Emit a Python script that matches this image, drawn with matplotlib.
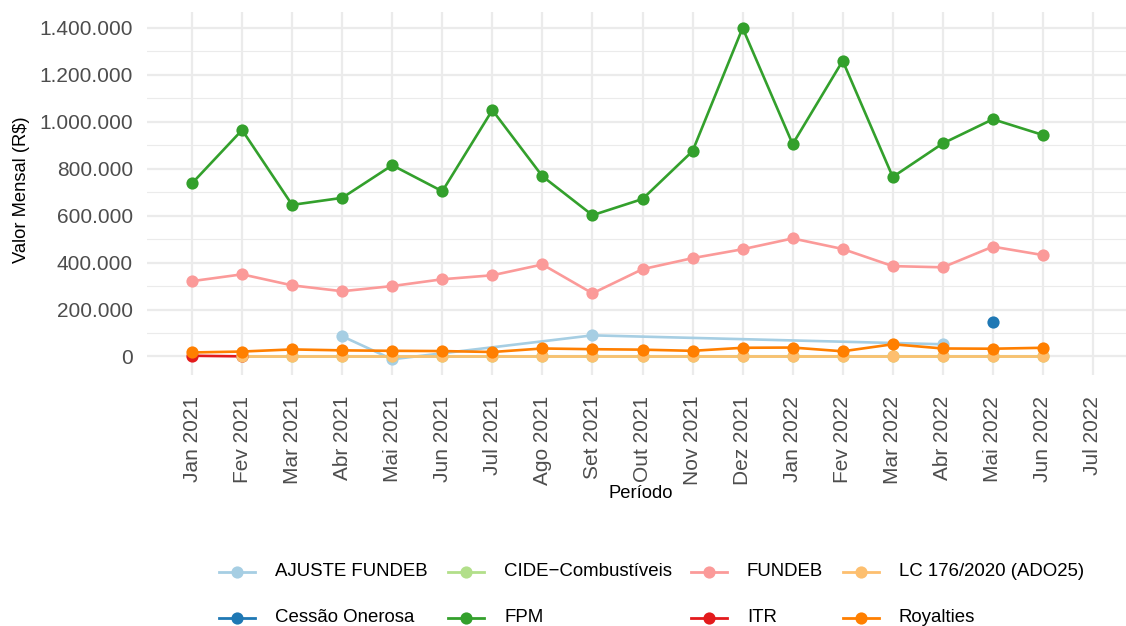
import matplotlib
matplotlib.use("Agg")
import matplotlib.pyplot as plt
from matplotlib.lines import Line2D
from matplotlib.ticker import FuncFormatter, MultipleLocator
import numpy as np

plt.rcParams['font.family'] = ['Liberation Sans', 'DejaVu Sans']

# ---------------- data ----------------
month_labels = ['Jan 2021', 'Fev 2021', 'Mar 2021', 'Abr 2021', 'Mai 2021', 'Jun 2021',
                'Jul 2021', 'Ago 2021', 'Set 2021', 'Out 2021', 'Nov 2021', 'Dez 2021',
                'Jan 2022', 'Fev 2022', 'Mar 2022', 'Abr 2022', 'Mai 2022', 'Jun 2022',
                'Jul 2022']

all_idx = list(range(18))
from_feb_idx = list(range(1, 18))

fpm_val = [738000, 965000, 646000, 676000, 815000, 704000, 1050000, 768000, 602000,
           671000, 875000, 1400000, 905000, 1260000, 765000, 908000, 1011000, 944000]

fundeb_val = [321000, 350000, 303000, 278000, 300000, 329000, 346000, 392000, 269000,
              372000, 419000, 457000, 503000, 458000, 385000, 380000, 468000, 432000]

royalties_val = [17000, 21000, 30000, 26000, 24000, 23000, 19000, 34000, 31000,
                 29000, 24000, 37000, 38000, 22000, 52000, 34000, 33000, 37000]

cide_val = [4000, 4000, 4000, 4000, 4000, 4000, 4000, 4000,
            4000, 4000, 4000, 4000, 4000, 4000, 4000, 4000, 4000]

lc_val = [500, 500, 500, 500, 500, 500, 500, 500,
          500, 500, 500, 500, 500, 500, 500, 500, 500]

ajuste_idx = [3, 4, 8, 15]
ajuste_val = [86000, -12000, 90000, 52000]

cessao_idx = [16]
cessao_val = [145000]

itr_idx = [0, 1]
itr_val = [3000, 500]

series_names = ['AJUSTE FUNDEB', 'Cessão Onerosa', 'CIDE−Combustíveis', 'FPM',
                'FUNDEB', 'ITR', 'LC 176/2020 (ADO25)', 'Royalties']
series_colors = ['#A6CEE3', '#1F78B4', '#B2DF8A', '#33A02C',
                 '#FB9A99', '#E31A1C', '#FDBF6F', '#FF7F00']
series_x = [ajuste_idx, cessao_idx, from_feb_idx, all_idx, all_idx, itr_idx, from_feb_idx, all_idx]
series_y = [ajuste_val, cessao_val, cide_val, fpm_val, fundeb_val, itr_val, lc_val, royalties_val]

# ---------------- figure ----------------
W, H = 1126, 626
fig = plt.figure(figsize=(W / 100, H / 100), dpi=100)
px = lambda x: x / W
py = lambda y: 1 - y / H

ax = fig.add_axes([px(147), py(375), px(1126) - px(147), py(12) - py(375)])

grid_c = '#EBEBEB'
ax.set_ylim(-79000, 1468000)
ax.set_xlim(-0.9, 18.66)
ax.yaxis.set_major_locator(MultipleLocator(200000))
ax.yaxis.set_minor_locator(MultipleLocator(100000))
ax.set_xticks(range(len(month_labels)))
ax.set_xticklabels(month_labels, rotation=90, va='top', ha='center')
ax.yaxis.set_major_formatter(FuncFormatter(lambda v, p: f"{int(round(v)):,}".replace(',', '.')))

ax.grid(True, which='major', axis='both', color=grid_c, linewidth=1.6, zorder=0)
ax.grid(True, which='minor', axis='y', color=grid_c, linewidth=0.8, zorder=0)
ax.set_axisbelow(True)
for s in ax.spines.values():
    s.set_visible(False)
ax.tick_params(axis='both', which='both', length=0, labelsize=15, labelcolor='#4D4D4D')
ax.tick_params(axis='y', pad=10)
ax.tick_params(axis='x', pad=15)

# lines first, then points (ggplot layer order)
for xs, ys, c in zip(series_x, series_y, series_colors):
    if len(xs) > 1:
        ax.plot(xs, ys, color=c, linewidth=1.9, zorder=2, solid_capstyle='butt')
for xs, ys, c in zip(series_x, series_y, series_colors):
    ax.plot(xs, ys, linestyle='none', marker='o', markersize=8.8,
            markerfacecolor=c, markeredgewidth=0, zorder=3)

fig.text(px(22), py(190), 'Valor Mensal (R$)', rotation=90, ha='center', va='center',
         fontsize=13.2, color='black')
fig.text(px(641), py(493), 'Período', ha='center', va='center', fontsize=13.2, color='black')

# legend (2 rows x 4 columns, filled by column)
key_x = [219, 448, 691, 843]
row_y = [572, 618]
for i, (name, c) in enumerate(zip(series_names, series_colors)):
    col, row = i // 2, i % 2
    x0 = key_x[col]
    y0 = row_y[row]
    fig.add_artist(Line2D([px(x0), px(x0 + 36)], [py(y0), py(y0)], color=c,
                          linewidth=2.0, transform=fig.transFigure))
    fig.add_artist(Line2D([px(x0 + 18)], [py(y0)], marker='o', markersize=8.8,
                          markerfacecolor=c, markeredgewidth=0, linestyle='none',
                          transform=fig.transFigure))
    fig.text(px(x0 + 56), py(y0), name, ha='left', va='center', fontsize=13.4, color='black')

fig.savefig('out.png', dpi=100, facecolor='white')
